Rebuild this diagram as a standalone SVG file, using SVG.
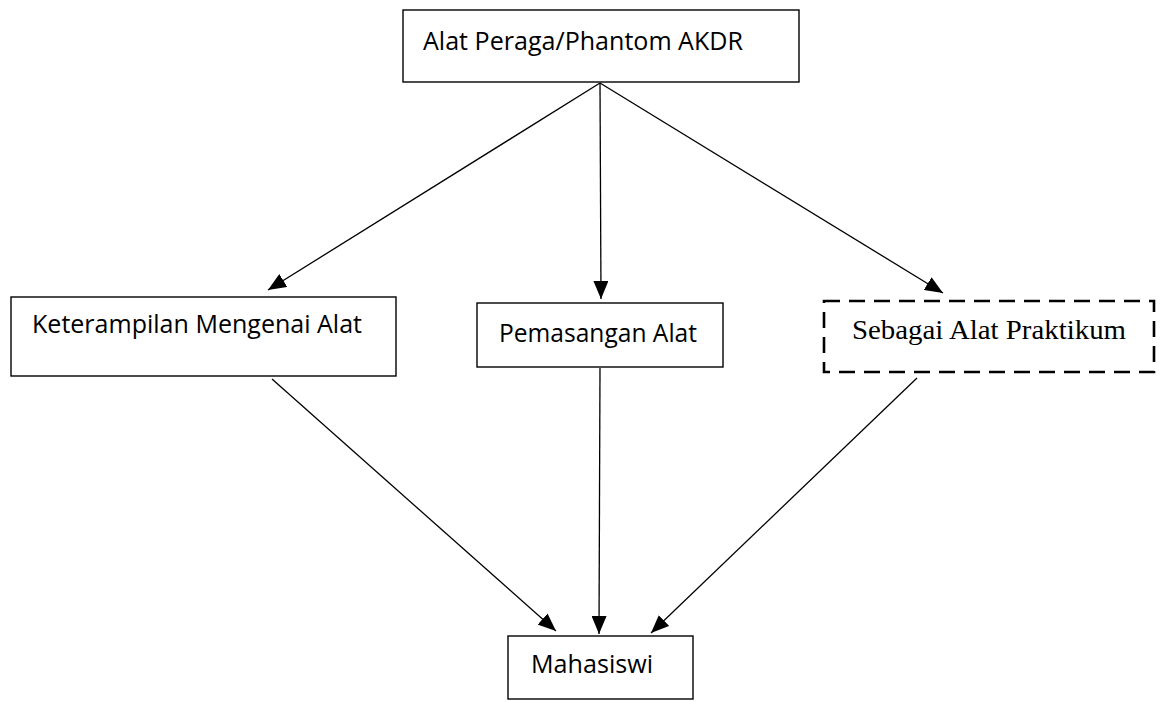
<svg xmlns="http://www.w3.org/2000/svg" width="1165" height="702" viewBox="0 0 1165 702">
<style>
.box{fill:#fff;stroke:#000;stroke-width:1.4}
.dash{fill:#fff;stroke:#000;stroke-width:2.6;stroke-dasharray:16 9}
.t{font-family:"Open Sans","Liberation Sans",sans-serif;font-size:25.5px;fill:#000}
.s{font-family:"Liberation Serif",serif;font-size:28px;fill:#000}
.c{stroke:#000;stroke-width:1.3;fill:none;marker-end:url(#ah)}
</style>
<defs>
<marker id="ah" markerUnits="userSpaceOnUse" markerWidth="18" markerHeight="15" viewBox="0 0 18 15" refX="18" refY="7.5" orient="auto">
<path d="M0,0 L18,7.5 L0,15 Z" fill="#000"/>
</marker>
</defs>
<rect width="1165" height="702" fill="#fff"/>
<g id="connectors">
<line class="c" x1="600" y1="83" x2="268" y2="290"/>
<line class="c" x1="600" y1="83" x2="601" y2="299"/>
<line class="c" x1="600" y1="83" x2="943" y2="293"/>
<line class="c" x1="272" y1="379" x2="556" y2="631"/>
<line class="c" x1="600" y1="368" x2="599" y2="634"/>
<line class="c" x1="917" y1="378" x2="651" y2="633"/>
</g>
<g id="n-top">
<rect class="box" x="403" y="10" width="396" height="72"/>
<text class="t" x="423" y="50" textLength="320" lengthAdjust="spacingAndGlyphs">Alat Peraga/Phantom AKDR</text>
</g>
<g id="n-left">
<rect class="box" x="11" y="297" width="385" height="79"/>
<text class="t" x="32" y="333" textLength="330" lengthAdjust="spacingAndGlyphs">Keterampilan Mengenai Alat</text>
</g>
<g id="n-mid">
<rect class="box" x="477" y="303" width="246" height="64"/>
<text class="t" x="499" y="342" textLength="198" lengthAdjust="spacingAndGlyphs">Pemasangan Alat</text>
</g>
<g id="n-right">
<rect class="dash" x="824" y="301" width="330" height="71"/>
<text class="s" x="852" y="339" textLength="274" lengthAdjust="spacingAndGlyphs">Sebagai Alat Praktikum</text>
</g>
<g id="n-bottom">
<rect class="box" x="508" y="636" width="185" height="63"/>
<text class="t" x="531" y="673" textLength="122" lengthAdjust="spacingAndGlyphs">Mahasiswi</text>
</g>
</svg>
